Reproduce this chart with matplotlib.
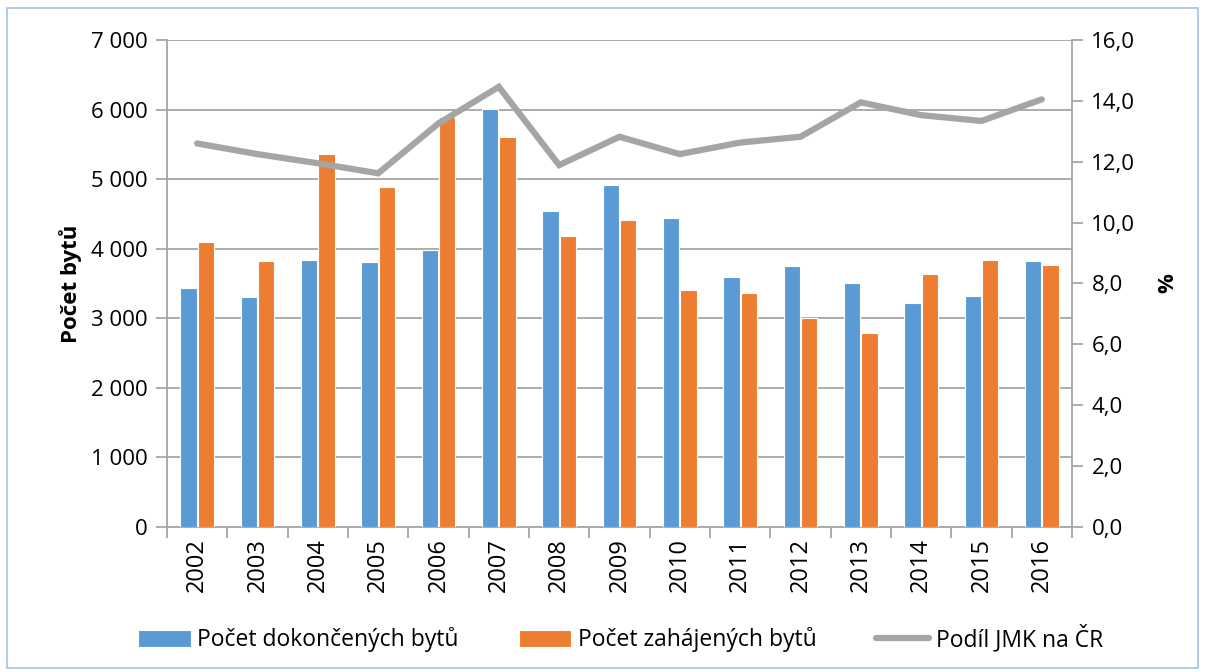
import matplotlib.pyplot as plt
from matplotlib.patches import Rectangle
import numpy as np

years = ["2002", "2003", "2004", "2005", "2006", "2007", "2008", "2009",
         "2010", "2011", "2012", "2013", "2014", "2015", "2016"]
dokoncene = [3431, 3306, 3833, 3805, 3982, 6004, 4542, 4916,
             4437, 3594, 3756, 3503, 3224, 3325, 3823]
zahajene = [4092, 3819, 5361, 4883, 5898, 5606, 4183, 4413,
            3402, 3368, 3000, 2793, 3637, 3833, 3766]
podil = [12.60, 12.25, 11.95, 11.62, 13.26, 14.46, 11.89, 12.82,
         12.25, 12.63, 12.82, 13.95, 13.53, 13.34, 14.05]

plt.rcParams['font.family'] = ['Open Sans', 'DejaVu Sans']

blue = '#5b9bd5'
orange = '#ed7d31'
grey = '#a5a5a5'
axcol = '#a6a6a6'

fig = plt.figure(figsize=(12.05, 6.72), dpi=100)
ax = fig.add_axes([0.1386, 0.2158, 0.7510, 0.7247])

x = np.arange(len(years))
w = 0.27
b1 = ax.bar(x - w / 2 - 0.01, dokoncene, w, color=blue, edgecolor='white', linewidth=0.8,
            label='Počet dokončených bytů', zorder=3)
b2 = ax.bar(x + w / 2 + 0.01, zahajene, w, color=orange, edgecolor='white', linewidth=0.8,
            label='Počet zahájených bytů', zorder=3)

ax.set_xlim(-0.5, len(years) - 0.5)
ax.set_ylim(0, 7000)
ax.set_yticks(range(0, 7001, 1000))
ax.set_yticklabels(['0' if v == 0 else '{} {:03d}'.format(v // 1000, v % 1000) for v in range(0, 7001, 1000)])
ax.yaxis.grid(True, color=axcol, linewidth=1.3, zorder=0)
ax.set_axisbelow(True)

ax.set_xticks(np.arange(-0.5, len(years), 1.0))
ax.set_xticklabels([])
ax.set_xticks(x, minor=True)
ax.set_xticklabels(years, minor=True, rotation=90, fontsize=17)
ax.tick_params(axis='x', which='minor', length=0, pad=8)
ax.tick_params(axis='x', which='major', length=8, color=axcol, width=1.3)
ax.tick_params(axis='y', length=8, color=axcol, width=1.3, labelsize=16, pad=6)

for s in ['top', 'right']:
    ax.spines[s].set_visible(False)
for s in ['left', 'bottom']:
    ax.spines[s].set_color(axcol)
    ax.spines[s].set_linewidth(1.3)

ax.set_ylabel('Počet bytů', fontsize=16, fontweight='bold', labelpad=6)

ax2 = ax.twinx()
ln, = ax2.plot(x, podil, color=grey, linewidth=4.5, solid_capstyle='round',
               solid_joinstyle='miter', label='Podíl JMK na ČR', zorder=4)
ax2.set_ylim(0, 16)
ax2.set_yticks(np.arange(0, 16.1, 2))
ax2.set_yticklabels(['{:.1f}'.format(v).replace('.', ',') for v in np.arange(0, 16.1, 2)])
ax2.tick_params(axis='y', length=8, color=axcol, width=1.3, labelsize=16, pad=6)
for s in ['top', 'left', 'bottom']:
    ax2.spines[s].set_visible(False)
ax2.spines['right'].set_color(axcol)
ax2.spines['right'].set_linewidth(1.3)
ax2.set_ylabel('%', fontsize=16, fontweight='bold', labelpad=16)

fig.legend(handles=[b1, b2, ln], loc='center', bbox_to_anchor=(0.515, 0.05), ncol=3,
           frameon=False, fontsize=16.5, columnspacing=2.6, handlelength=2.3,
           handleheight=0.75, handletextpad=0.3)

fig.patches.append(Rectangle((0.006, 0.006), 0.988, 0.982, transform=fig.transFigure,
                             fill=False, edgecolor='#9dc3e6', linewidth=1.2))

fig.savefig('out.png')
